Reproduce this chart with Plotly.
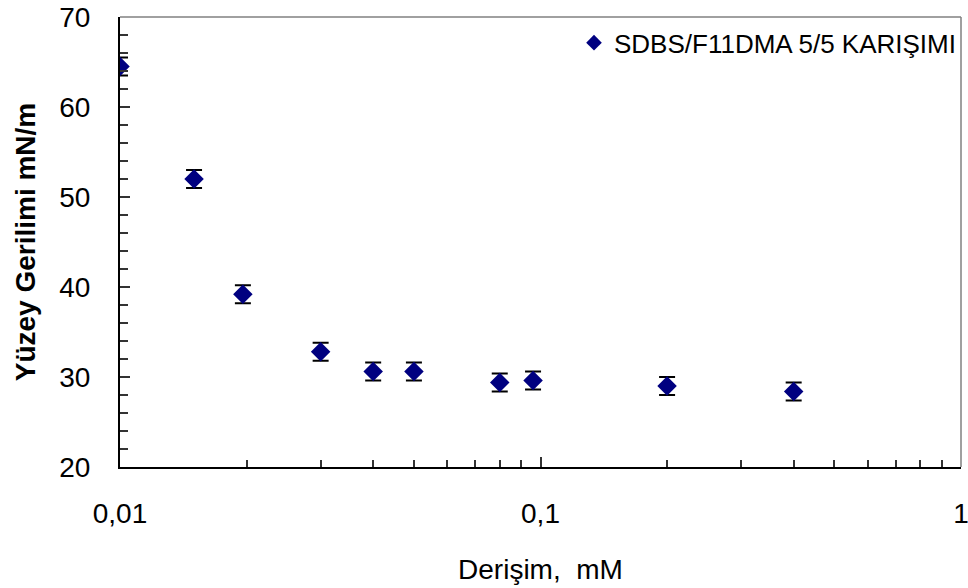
import plotly.graph_objects as go

# Surface tension of the SDBS/F11DMA 5/5 mixture vs. concentration
concentration_mM = [0.01, 0.015, 0.0196, 0.03, 0.04, 0.05, 0.08, 0.096, 0.2, 0.4]
surface_tension = [64.5, 52.0, 39.2, 32.8, 30.6, 30.6, 29.4, 29.6, 29.0, 28.4]
tension_error = [1.0, 1.0, 1.0, 1.0, 1.0, 1.0, 1.0, 1.0, 1.0, 1.0]

series_name = "SDBS/F11DMA 5/5 KARIŞIMI"
x_tick_values = [0.01, 0.1, 1]
x_tick_labels = ["0,01", "0,1", "1"]
y_tick_values = [20, 30, 40, 50, 60, 70]

FONT = "Liberation Sans, Arial, sans-serif"
NAVY = "#000080"

fig = go.Figure()
fig.add_trace(go.Scatter(
    x=concentration_mM,
    y=surface_tension,
    mode="markers",
    name=series_name,
    marker=dict(symbol="diamond", size=15, color=NAVY),
    error_y=dict(type="data", array=tension_error, visible=True,
                 color="black", thickness=2, width=8),
))

fig.update_layout(
    width=968, height=588,
    margin=dict(l=120, r=7, t=17, b=121),
    paper_bgcolor="white", plot_bgcolor="white",
    font=dict(family=FONT, color="black"),
    showlegend=True,
    legend=dict(x=1.0, y=0.995, xanchor="right", yanchor="top",
                bgcolor="rgba(0,0,0,0)", font=dict(size=26, family=FONT),
                itemsizing="constant", itemwidth=30),
    xaxis=dict(
        type="log", range=[-2, 0], automargin=False,
        tickvals=x_tick_values, ticktext=x_tick_labels,
        ticks="inside", ticklen=10, tickwidth=2, tickcolor="#333",
        minor=dict(ticks="inside", ticklen=7, tickwidth=1.5,
                   tickcolor="#333", dtick="D1", showgrid=False),
        showline=True, linecolor="black", linewidth=2,
        showgrid=False, zeroline=False,
        tickfont=dict(size=28, family=FONT),
        ticklabelstandoff=20,
        ticklabeloverflow="allow",
        title=dict(text="Derişim,\u00a0\u00a0mM", font=dict(size=28, family=FONT),
                   standoff=32),
    ),
    yaxis=dict(
        range=[20, 70], automargin=False,
        tickvals=y_tick_values,
        ticks="inside", ticklen=10, tickwidth=2, tickcolor="#333",
        minor=dict(ticks="inside", ticklen=8, tickwidth=1.5,
                   tickcolor="#333", dtick=2, showgrid=False),
        showline=True, linecolor="black", linewidth=2,
        showgrid=False, zeroline=False,
        tickfont=dict(size=28, family=FONT),
        ticklabelstandoff=22,
        ticklabeloverflow="allow",
        title=dict(text="<b>Yüzey Gerilimi mN/m</b>", font=dict(size=28, family=FONT),
                   standoff=15),
    ),
)

# grey frame on the top and right edges of the plotting area
fig.add_shape(type="line", xref="paper", yref="paper", x0=0, x1=1, y0=1, y1=1,
              line=dict(color="#808080", width=1.5))
fig.add_shape(type="line", xref="paper", yref="paper", x0=1, x1=1, y0=0, y1=1,
              line=dict(color="#808080", width=1.5))

fig.write_html("out.html")
